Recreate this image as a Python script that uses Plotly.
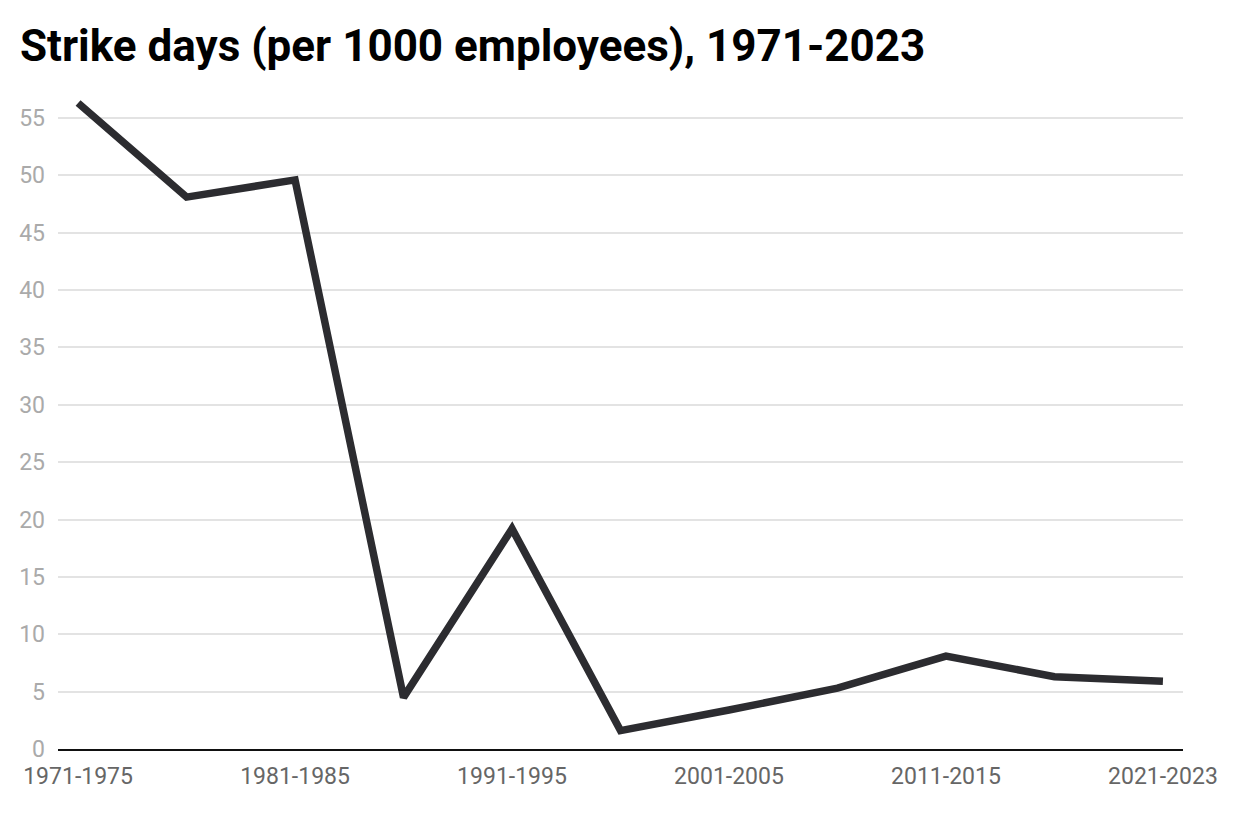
import plotly.graph_objects as go

categories = ["1971-1975", "1976-1980", "1981-1985", "1986-1990", "1991-1995",
              "1996-2000", "2001-2005", "2006-2010", "2011-2015", "2016-2020", "2021-2023"]
strike_days = [56.3, 48.1, 49.6, 4.5, 19.2, 1.6, 3.4, 5.3, 8.1, 6.3, 5.9]
y_ticks = [0, 5, 10, 15, 20, 25, 30, 35, 40, 45, 50, 55]
title_text = "Strike days (per 1000 employees), 1971-2023"

fig = go.Figure()
fig.add_trace(go.Scatter(
    x=list(range(len(categories))), y=strike_days, mode="lines",
    line=dict(color="#2c2c30", width=7.5), hoverinfo="skip",
))

# page body has an 8px margin; positions below are in figure coordinates
W, H = 1240, 831
left, right, top, bottom = 50, 1175, 87, 741
fig.update_layout(
    width=W, height=H,
    margin=dict(l=left, r=W - right, t=top, b=H - bottom),
    paper_bgcolor="white", plot_bgcolor="white",
    showlegend=False,
    font=dict(family="Roboto", color="#666666"),
    title=dict(text="<b>" + title_text + "</b>", x=12 / W, xanchor="left",
               y=1 - 38 / H, yanchor="middle",
               font=dict(family="Roboto", size=44, color="#000000")),
    xaxis=dict(
        range=[-0.185, len(categories) - 1 + 0.185],
        tickvals=list(range(0, len(categories), 2)),
        ticktext=categories[::2],
        tickfont=dict(size=23, color="#666666"),
        showgrid=False, zeroline=False,
        showline=True, linecolor="#111111", linewidth=2,
        ticks="", ticklabelstandoff=5,
    ),
    yaxis=dict(
        range=[0, 57],
        tickvals=y_ticks,
        tickfont=dict(size=23, color="#aaaaaa"),
        showgrid=True, gridcolor="#e3e3e3", gridwidth=1.5,
        zeroline=False, showline=False, ticks="",
        ticklabelstandoff=12,
    ),
)
fig.write_html("out.html")
